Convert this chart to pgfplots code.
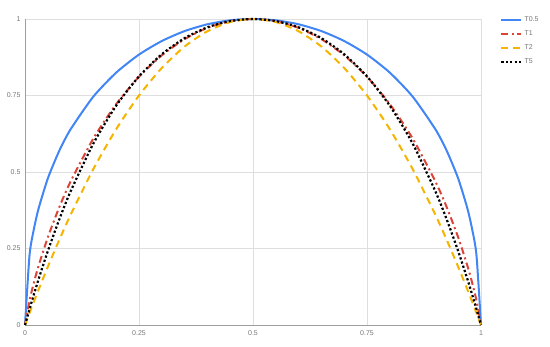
\documentclass[border=0pt]{standalone}
\usepackage{fontspec}
\setmainfont{Liberation Sans}
\usepackage{pgfplots}
\pgfplotsset{compat=1.18}

\definecolor{gblue}{HTML}{4285F4}
\definecolor{gred}{HTML}{DB4437}
\definecolor{gorange}{HTML}{F4B400}
\definecolor{gridgray}{HTML}{DEDEDE}
\definecolor{axisgray}{HTML}{9E9E9E}
\definecolor{labelgray}{HTML}{757575}

\begin{document}
\begin{tikzpicture}[x=1pt,y=1pt]
\useasboundingbox (0,0) rectangle (550,347);
\begin{axis}[
  at={(25pt,22pt)}, anchor=south west,
  scale only axis,
  width=456pt, height=306pt,
  xmin=0, xmax=1, ymin=0, ymax=1,
  xtick={0,0.25,0.5,0.75,1},
  ytick={0,0.25,0.5,0.75,1},
  xticklabels={0,0.25,0.5,0.75,1},
  yticklabels={0,0.25,0.5,0.75,1},
  axis lines=left,
  axis line style={-, axisgray, line width=0.9pt},
  grid=major,
  major grid style={gridgray, line width=0.8pt},
  major tick length=0pt,
  tick label style={font=\fontsize{7}{8}\selectfont, text=labelgray},
  xticklabel style={yshift=-2pt},
  yticklabel style={xshift=-1pt},
  clip=false,
  legend style={at={(1.042,1.014)}, anchor=north west, draw=none, fill=none,
    font=\fontsize{7}{8}\selectfont, text=labelgray, row sep=3.6pt,
    inner sep=0pt, legend cell align=left},
  legend image code/.code={\draw[#1] (0pt,0pt) -- (20pt,0pt);},
]
\addplot[gblue, line width=2pt, smooth, tension=0.4] coordinates {
(0,0) (0.01,0.2293) (0.02,0.3172) (0.03,0.3817) (0.05,0.4787) (0.075,0.5689)
(0.1,0.6396) (0.15,0.7466) (0.2,0.8248) (0.25,0.8837) (0.3,0.9280)
(0.35,0.9605) (0.4,0.9827) (0.45,0.9957) (0.5,1)
(0.55,0.9957) (0.6,0.9827) (0.65,0.9605) (0.7,0.9280) (0.75,0.8837)
(0.8,0.8248) (0.85,0.7466) (0.9,0.6396) (0.925,0.5689) (0.95,0.4787)
(0.97,0.3817) (0.98,0.3172) (0.99,0.2293) (1,0)};
\addlegendentry{T0.5}
\addplot[gred, line width=2pt, dash pattern=on 7pt off 3.5pt on 2pt off 3.5pt, smooth, tension=0.4] coordinates {
(0,0) (0.01,0.0808) (0.02,0.1414) (0.03,0.1944) (0.05,0.2864) (0.075,0.3843)
(0.1,0.4690) (0.15,0.6098) (0.2,0.7219) (0.25,0.8113) (0.3,0.8813)
(0.35,0.9341) (0.4,0.9710) (0.45,0.9928) (0.5,1)
(0.55,0.9928) (0.6,0.9710) (0.65,0.9341) (0.7,0.8813) (0.75,0.8113)
(0.8,0.7219) (0.85,0.6098) (0.9,0.4690) (0.925,0.3843) (0.95,0.2864)
(0.97,0.1944) (0.98,0.1414) (0.99,0.0808) (1,0)};
\addlegendentry{T1}
\addplot[gorange, line width=2pt, dash pattern=on 7pt off 5pt, smooth, tension=0.4] coordinates {
(0,0) (0.01,0.0396) (0.02,0.0784) (0.03,0.1164) (0.05,0.19) (0.075,0.2775)
(0.1,0.36) (0.15,0.51) (0.2,0.64) (0.25,0.75) (0.3,0.84)
(0.35,0.91) (0.4,0.96) (0.45,0.99) (0.5,1)
(0.55,0.99) (0.6,0.96) (0.65,0.91) (0.7,0.84) (0.75,0.75)
(0.8,0.64) (0.85,0.51) (0.9,0.36) (0.925,0.2775) (0.95,0.19)
(0.97,0.1164) (0.98,0.0784) (0.99,0.0396) (1,0)};
\addlegendentry{T2}
\addplot[black, line width=2.2pt, dash pattern=on 2.2pt off 2.2pt, smooth, tension=0.4] coordinates {
(0,0) (0.01,0.0523) (0.02,0.1025) (0.03,0.1507) (0.05,0.2413) (0.075,0.3443)
(0.1,0.4368) (0.15,0.5933) (0.2,0.7168) (0.25,0.8125) (0.3,0.8848)
(0.35,0.9373) (0.4,0.9728) (0.45,0.9933) (0.5,1)
(0.55,0.9933) (0.6,0.9728) (0.65,0.9373) (0.7,0.8848) (0.75,0.8125)
(0.8,0.7168) (0.85,0.5933) (0.9,0.4368) (0.925,0.3443) (0.95,0.2413)
(0.97,0.1507) (0.98,0.1025) (0.99,0.0523) (1,0)};
\addlegendentry{T5}
\end{axis}
\end{tikzpicture}
\end{document}
